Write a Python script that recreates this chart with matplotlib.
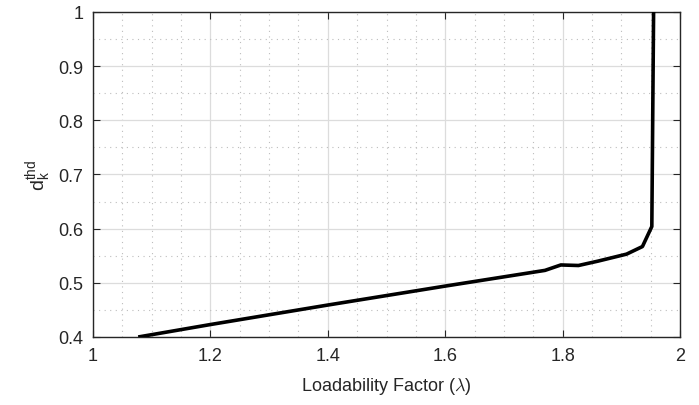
import numpy as np
import matplotlib
matplotlib.use("Agg")
import matplotlib.pyplot as plt
from matplotlib.ticker import MultipleLocator

# ==================================================
# Data
# ==================================================
lam = [1.077, 1.2, 1.4, 1.6, 1.77, 1.797, 1.827, 1.86, 1.909, 1.936, 1.952, 1.955]
d_thd = [0.400, 0.423, 0.459, 0.494, 0.523, 0.533, 0.532, 0.540, 0.553, 0.567, 0.604, 1.0]

plt.rcParams["font.family"] = ["Liberation Sans", "DejaVu Sans"]
plt.rcParams["mathtext.fontset"] = "cm"

fig = plt.figure(figsize=(6.99, 4.06), dpi=100)
ax = fig.add_axes([93 / 699, 1 - 338 / 406, 587 / 699, 325 / 406])

ax.plot(lam, d_thd, color="black", linewidth=2.6, solid_capstyle="butt", zorder=3)

ax.set_xlim(1, 2)
ax.set_ylim(0.4, 1)
ax.xaxis.set_major_locator(MultipleLocator(0.2))
ax.yaxis.set_major_locator(MultipleLocator(0.1))
ax.xaxis.set_minor_locator(MultipleLocator(0.05))
ax.yaxis.set_minor_locator(MultipleLocator(0.05))
ax.xaxis.set_major_formatter(matplotlib.ticker.FuncFormatter(lambda v, p: f"{v:g}"))
ax.yaxis.set_major_formatter(matplotlib.ticker.FuncFormatter(lambda v, p: f"{v:g}"))

ax.grid(True, which="major", color="#dcdcdc", linewidth=0.9, linestyle="-")
ax.grid(True, which="minor", color="#bdbdbd", linewidth=0.8, linestyle=(0, (1, 4)))
ax.set_axisbelow(True)

ax.tick_params(which="major", direction="in", length=5, width=0.8, top=True, right=True,
               labelsize=13, colors="#262626", pad=7)
ax.tick_params(which="minor", length=0, top=True, right=True)
for s in ax.spines.values():
    s.set_color("#262626")
    s.set_linewidth(1.0)

ax.set_xlabel(r"Loadability Factor ($\lambda$)", fontsize=13, color="#262626", labelpad=8)
ax.set_ylabel(r"$\mathregular{d_k^{thd}}$", fontsize=14, color="#262626", labelpad=4)

fig.savefig("out.png", dpi=100)
